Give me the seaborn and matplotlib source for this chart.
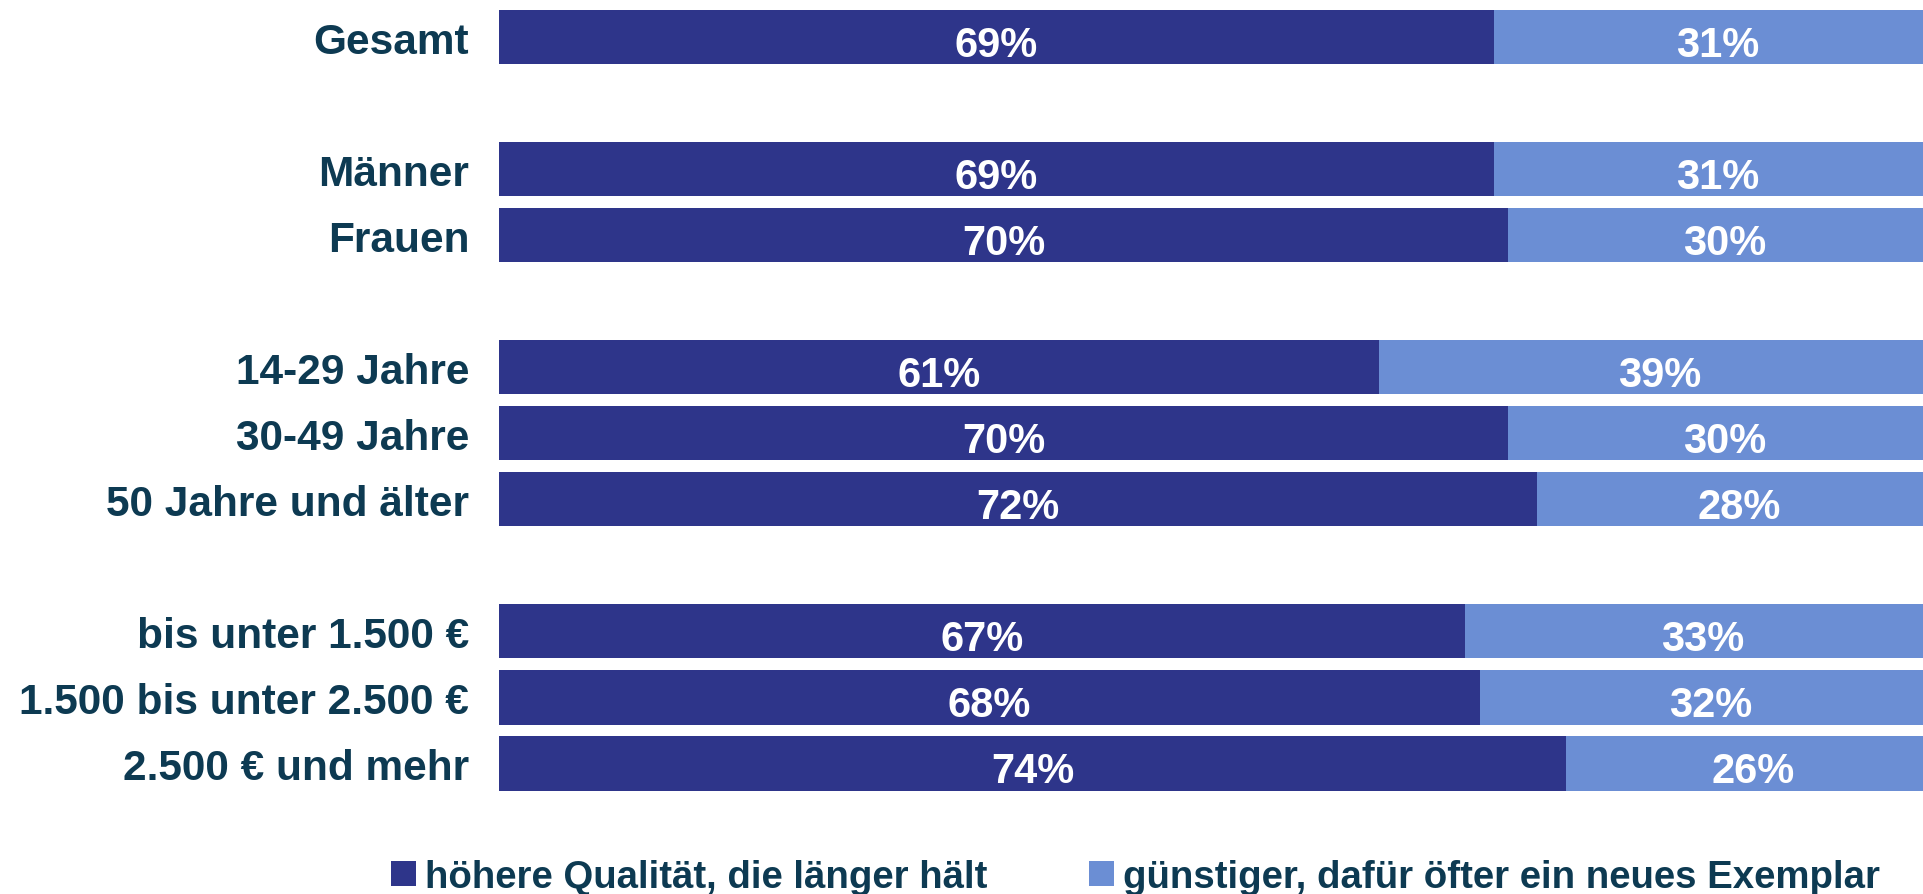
import matplotlib
matplotlib.use("Agg")
import matplotlib.pyplot as plt
import matplotlib.transforms as mtransforms
import seaborn as sns
import pandas as pd
from matplotlib.patches import Patch

# Survey results: share preferring durable quality vs. cheaper replacements
groups = ["Gesamt", "Männer", "Frauen", "14-29 Jahre", "30-49 Jahre",
          "50 Jahre und älter", "bis unter 1.500 €", "1.500 bis unter 2.500 €",
          "2.500 € und mehr"]
quality = [69, 69, 70, 61, 70, 72, 67, 68, 74]
cheaper = [31, 31, 30, 39, 30, 28, 33, 32, 26]
series_names = ["höhere Qualität, die länger hält",
                "günstiger, dafür öfter ein neues Exemplar"]

# Row order with empty spacer rows between the blocks
order = ["Gesamt", " ", "Männer", "Frauen", "  ", "14-29 Jahre", "30-49 Jahre",
         "50 Jahre und älter", "   ", "bis unter 1.500 €",
         "1.500 bis unter 2.500 €", "2.500 € und mehr"]

DARK = "#2E358A"
LIGHT = "#6B8ED4"
TEXT = "#0D3A52"

df = pd.DataFrame({"Gruppe": groups, "Qualitaet": quality, "Guenstiger": cheaper})
df["Summe"] = df["Qualitaet"] + df["Guenstiger"]

sns.set_theme(style="white")
plt.rcParams["font.family"] = ["Liberation Sans", "DejaVu Sans"]

W, H = 1924, 895
fig = plt.figure(figsize=(W / 100, H / 100), dpi=100)
ax = fig.add_axes([499 / W, (H - 797.5) / H, 1442 / W, 792.5 / H])

# stacked bars: full total in light blue, quality share overlaid in dark blue
sns.barplot(data=df, y="Gruppe", x="Summe", order=order, color=LIGHT,
            saturation=1, width=0.82, errorbar=None, ax=ax, linewidth=0)
sns.barplot(data=df, y="Gruppe", x="Qualitaet", order=order, color=DARK,
            saturation=1, width=0.82, errorbar=None, ax=ax, linewidth=0)

ax.set_xlim(0, 100)
ax.set_ylim(len(order) - 0.5, -0.5)
ax.set_xlabel("")
ax.set_ylabel("")
ax.set_xticks([])
for s in ax.spines.values():
    s.set_visible(False)
ax.tick_params(axis="y", length=0, pad=21.5)
for lbl in ax.get_yticklabels():
    lbl.set_fontsize(30.5)
    lbl.set_fontweight("bold")
    lbl.set_color(TEXT)

# value labels centred in each segment, sitting slightly low in the bar
lab_tf = ax.transData + mtransforms.ScaledTranslation(0, -18.5 / 100, fig.dpi_scale_trans)
for g, q, c in zip(groups, quality, cheaper):
    y = order.index(g)
    ax.text(q / 2, y, f"{q}%", ha="center", va="baseline", color="white",
            fontsize=30, fontweight="bold", transform=lab_tf)
    ax.text(q + c / 2, y, f"{c}%", ha="center", va="baseline", color="white",
            fontsize=30, fontweight="bold", transform=lab_tf)

handles = [Patch(facecolor=DARK, edgecolor="none"),
           Patch(facecolor=LIGHT, edgecolor="none")]
fig.legend(handles, series_names, loc="center left",
           bbox_to_anchor=(391 / W, (H - 878) / H), ncol=2, frameon=False,
           prop={"weight": "bold", "size": 27.6},
           labelcolor=TEXT, handlelength=0.65, handleheight=0.65,
           handletextpad=0.25, columnspacing=2.63, borderpad=0, borderaxespad=0)

fig.savefig("out.png", dpi=100)
